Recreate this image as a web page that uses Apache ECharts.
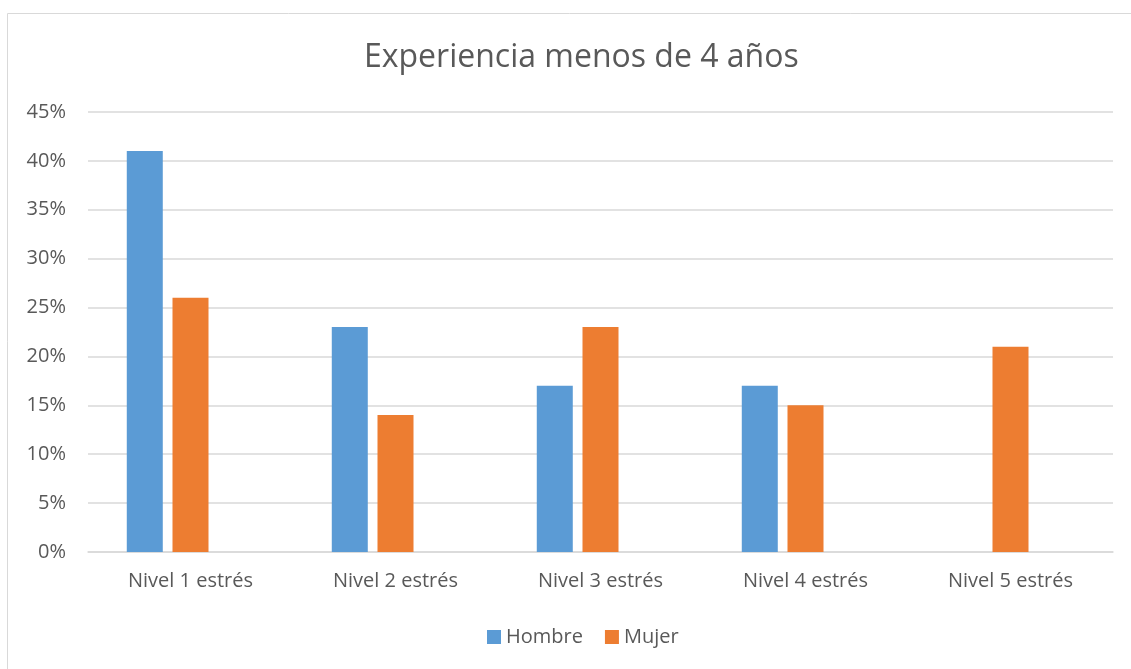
<!DOCTYPE html>
<html><head><meta charset="utf-8">
<script src="https://cdn.jsdelivr.net/npm/echarts@6/dist/echarts.min.js"></script>
<style>html,body{margin:0;padding:0;background:#fff}#c{width:1131px;height:669px}</style>
</head><body><div id="c"></div>
<script>
const categories = ['Nivel 1 estrés','Nivel 2 estrés','Nivel 3 estrés','Nivel 4 estrés','Nivel 5 estrés'];
const hombre = [41, 23, 17, 17, 0];
const mujer = [26, 14, 23, 15, 21];
const FONT = '"Open Sans", sans-serif';
const chart = echarts.init(document.getElementById('c'));
chart.setOption({
  animation: false,
  graphic: [{type:'rect', shape:{x:7.5,y:13.5,width:1140,height:700}, style:{fill:'none',stroke:'#d9d9d9',lineWidth:1}, z:-1}],
  title: {text:'Experiencia menos de 4 años', left:359, top:37,
    textStyle:{fontFamily:FONT, fontSize:32, fontWeight:'normal', color:'#595959'}},
  legend: {data:['Hombre','Mujer'], bottom:17, left:482, itemWidth:14, itemHeight:14, itemGap:22,
    icon:'rect', textStyle:{fontFamily:FONT, fontSize:20, color:'#595959'}},
  grid: {left:88, right:18, top:112, bottom:117, containLabel:false},
  xAxis: {type:'category', data:categories,
    axisLine:{lineStyle:{color:'#d9d9d9', width:1.5}}, axisTick:{show:false},
    axisLabel:{fontFamily:FONT, fontSize:20, color:'#595959', margin:19}},
  yAxis: {type:'value', min:0, max:0.45, interval:0.05,
    axisLine:{show:false}, axisTick:{show:false},
    splitLine:{lineStyle:{color:'#d9d9d9', width:1.5}},
    axisLabel:{fontFamily:FONT, fontSize:20, color:'#595959', margin:22,
      formatter: v => Math.round(v*100)+'%'}},
  series: [
    {name:'Hombre', type:'bar', data:hombre.map(v=>v/100), barWidth:36, barGap:'27%', itemStyle:{color:'#5B9BD5'}},
    {name:'Mujer', type:'bar', data:mujer.map(v=>v/100), barWidth:36, barGap:'27%', itemStyle:{color:'#ED7D31'}},
    {name:'_spacer', type:'bar', data:[null,null,null,null,null], barWidth:36, barGap:'27%'}
  ]
});
</script></body></html>
